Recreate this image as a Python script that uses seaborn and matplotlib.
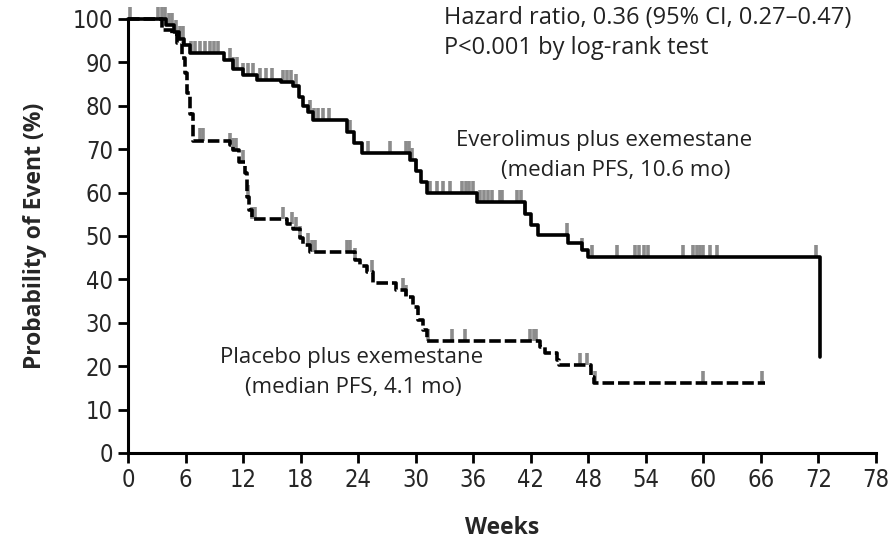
import numpy as np
import pandas as pd
import matplotlib
matplotlib.use("Agg")
import matplotlib.pyplot as plt
from matplotlib import font_manager
import seaborn as sns

# Kaplan-Meier step points (weeks, % event-free)
evero_weeks = [0, 4.0, 4.8, 5.3, 5.8, 6.5, 10.0, 11.0, 12.0, 13.4, 16.0, 17.2, 17.8, 18.3,
               18.8, 19.3, 22.8, 23.6, 24.4, 29.4, 30.0, 30.6, 31.2, 36.4, 41.4, 42.0,
               42.8, 45.9, 47.3, 48.0, 72.2]
evero_prob = [100, 98.6, 97, 95.5, 94, 92.2, 90.5, 88.5, 87, 86, 85.5, 84.5, 82, 80,
              78.5, 76.7, 74, 71.5, 69.1, 67.5, 65, 62.5, 59.9, 57.8, 55, 52.5,
              50.2, 48.4, 46.8, 45.2, 22.1]
evero_censor = [0.2, 3.1, 3.5, 3.9, 4.3, 4.6, 5.0, 5.4, 5.7, 6.6, 7.0, 7.5, 8.0, 8.5, 9.0,
                9.4, 10.6, 11.0, 11.4, 12.0, 12.5, 13.0, 13.8, 14.4, 15.0, 16.2, 16.6,
                17.0, 17.5, 19.0, 19.4, 19.8, 20.3, 21.0, 23.1, 25.0, 27.3, 29.0, 29.3,
                29.6, 30.0, 31.5, 32.2, 32.8, 33.6, 34.8, 35.2, 35.6, 36.0, 36.7, 37.1,
                37.5, 38.0, 38.8, 39.0, 40.6, 41.0, 41.4, 45.8, 47.4, 48.4, 51.0, 52.9,
                53.3, 53.8, 54.2, 57.9, 58.9, 59.3, 59.7, 60.0, 60.7, 61.4, 71.8]

placebo_weeks = [0, 3.5, 4.6, 5.1, 5.6, 5.9, 6.2, 6.5, 6.8, 10.6, 11.0, 11.6, 12.2, 12.4,
                 12.6, 12.9, 16.6, 17.2, 17.9, 18.2, 19.0, 23.7, 24.2, 24.9, 25.5, 28.0,
                 29.0, 29.7, 30.2, 30.8, 31.2, 43.0, 43.5, 44.7, 45.0, 48.3, 48.6, 66.4]
placebo_prob = [100, 97.5, 96.5, 94.5, 91, 87.5, 83, 78, 72, 71, 69.8, 67, 64.5, 59,
                56, 53.8, 52.8, 51.5, 49.5, 48, 46.3, 44.5, 43, 41.7, 39.2, 37.5,
                36, 33.6, 30.6, 28.3, 25.8, 24.5, 23, 21.5, 20.3, 17.5, 16.1, 16.1]
placebo_censor = [7.5, 7.8, 10.6, 11.0, 11.3, 12.0, 12.5, 12.9, 13.2, 16.2, 17.1, 17.5,
                  17.9, 18.8, 19.2, 19.5, 22.8, 23.2, 23.7, 25.4, 28.7, 29.0, 31.3, 33.8,
                  35.1, 41.9, 42.3, 42.6, 47.1, 47.9, 48.7, 60.0, 66.1]

x_ticks = list(range(0, 79, 6))
y_ticks = list(range(0, 101, 10))


def censor_heights(times, probs, censor):
    idx = np.searchsorted(times, censor, side="right") - 1
    return np.asarray(probs)[idx]


def narrow_font():
    # use a condensed face for the tick numbers if one is installed
    for f in font_manager.fontManager.ttflist:
        if f.weight in (400, "normal", "regular") and (
                "Narrow" in f.name or "Condensed" in f.name
                or f.stretch in ("condensed", "semi-condensed")):
            return dict(family=[f.name, "DejaVu Sans"], stretch=f.stretch, size=17)
    return dict(family=["Lato", "DejaVu Sans"], size=16)


sns.set_style("ticks")
plt.rcParams["font.family"] = ["Open Sans", "DejaVu Sans"]

fig = plt.figure(figsize=(8.91, 5.44), dpi=100)
ax = fig.add_axes([0.1437, 0.1673, 0.8393, 0.7978])

evero = pd.DataFrame({"week": evero_weeks, "prob": evero_prob})
placebo = pd.DataFrame({"week": placebo_weeks, "prob": placebo_prob})

grey = "#8c8c8c"
for cens, wk, pr in [(evero_censor, evero_weeks, evero_prob),
                     (placebo_censor, placebo_weeks, placebo_prob)]:
    base = censor_heights(wk, pr, cens)
    ax.vlines(cens, base, base + 2.8, color=grey, lw=2.6, zorder=2, clip_on=False)

sns.lineplot(data=evero, x="week", y="prob", ax=ax, estimator=None, sort=False,
             drawstyle="steps-post", color="black", lw=2.6, zorder=3, clip_on=False)
sns.lineplot(data=placebo, x="week", y="prob", ax=ax, estimator=None, sort=False,
             drawstyle="steps-post", color="black", lw=2.6, zorder=3, clip_on=False,
             linestyle=(0, (3.2, 1.1)))

ax.set_xlim(0, 78)
ax.set_ylim(0, 100)
ax.set_xticks(x_ticks)
ax.set_yticks(y_ticks)
tick_font = narrow_font()
ax.set_xticklabels([str(t) for t in x_ticks], **tick_font)
ax.set_yticklabels([str(t) for t in y_ticks], **tick_font)
ax.tick_params(axis="both", direction="out", length=7, width=2, color="black", pad=4)
sns.despine(ax=ax)
for s in ["left", "bottom"]:
    ax.spines[s].set_linewidth(2.2)
    ax.spines[s].set_color("black")

ax.set_xlabel("Weeks", fontsize=16.5, fontweight="bold", labelpad=17)
ax.set_ylabel("Probability of Event (%)", fontsize=16.5, fontweight="bold", labelpad=18)

txt = dict(fontsize=16, color="#222222")
ax.text(33.0, 100.3, "Hazard ratio, 0.36 (95% CI, 0.27\u20130.47)", ha="left", va="center",
        fontsize=17, color="#222222")
ax.text(33.0, 93.3, "P<0.001 by log-rank test", ha="left", va="center",
        fontsize=17, color="#222222")
ax.text(49.7, 72.1, "Everolimus plus exemestane", ha="center", va="center", **txt)
ax.text(50.9, 65.2, "(median PFS, 10.6 mo)", ha="center", va="center", **txt)
ax.text(23.3, 21.9, "Placebo plus exemestane", ha="center", va="center", **txt)
ax.text(23.5, 15.0, "(median PFS, 4.1 mo)", ha="center", va="center", **txt)

fig.savefig("out.png", dpi=100)
